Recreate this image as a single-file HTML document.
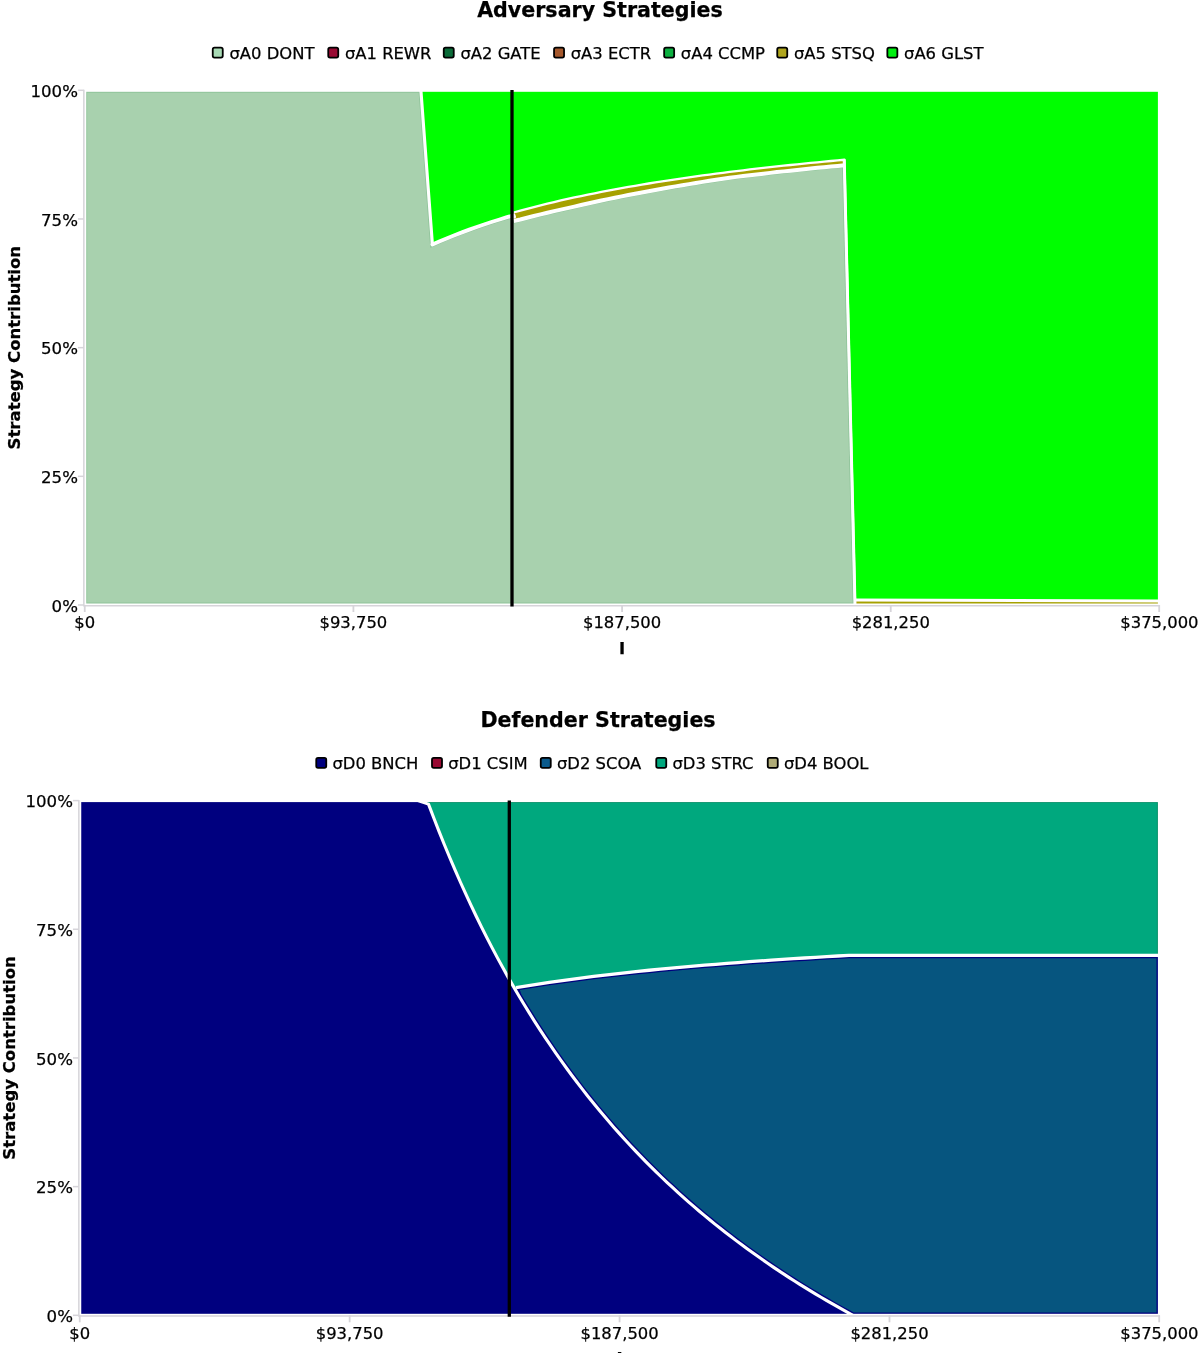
<!DOCTYPE html>
<html><head><meta charset="utf-8"><title>Strategies</title>
<style>html,body{margin:0;padding:0;background:#fff}svg{display:block}text{font-family:'DejaVu Sans','Liberation Sans',sans-serif;fill:#000;stroke:#000;stroke-width:0.25px}</style>
</head><body>
<svg width="1200" height="1353" viewBox="0 0 1200 1353">
<rect width="1200" height="1353" fill="#fff"/>
<text x="600" y="16.8" text-anchor="middle" font-size="20.6" font-weight="bold">Adversary Strategies</text>
<rect x="212.75" y="47.60" width="10" height="10" rx="1.8" fill="#a8dab5" stroke="#000" stroke-width="1.8"/>
<text x="229.40" y="58.7" font-size="16.4">σA0 DONT</text>
<rect x="328.25" y="47.60" width="10" height="10" rx="1.8" fill="#990a33" stroke="#000" stroke-width="1.8"/>
<text x="344.90" y="58.7" font-size="16.4">σA1 REWR</text>
<rect x="443.75" y="47.60" width="10" height="10" rx="1.8" fill="#0a6b38" stroke="#000" stroke-width="1.8"/>
<text x="460.40" y="58.7" font-size="16.4">σA2 GATE</text>
<rect x="554.05" y="47.60" width="10" height="10" rx="1.8" fill="#a5582c" stroke="#000" stroke-width="1.8"/>
<text x="570.70" y="58.7" font-size="16.4">σA3 ECTR</text>
<rect x="664.15" y="47.60" width="10" height="10" rx="1.8" fill="#0cb040" stroke="#000" stroke-width="1.8"/>
<text x="680.80" y="58.7" font-size="16.4">σA4 CCMP</text>
<rect x="777.25" y="47.60" width="10" height="10" rx="1.8" fill="#b0a61e" stroke="#000" stroke-width="1.8"/>
<text x="793.90" y="58.7" font-size="16.4">σA5 STSQ</text>
<rect x="887.35" y="47.60" width="10" height="10" rx="1.8" fill="#00f010" stroke="#000" stroke-width="1.8"/>
<text x="904.00" y="58.7" font-size="16.4">σA6 GLST</text>
<path d="M84.75 90.30 L1159.40 90.30 L1159.40 605.00 L84.75 605.00 Z" fill="#00fe00"/>
<path d="M513.60 212.50 L520.35 210.62 L527.10 208.80 L533.85 207.04 L540.60 205.33 L547.36 203.66 L554.11 202.05 L560.86 200.48 L567.61 198.95 L574.36 197.47 L581.11 196.03 L587.86 194.62 L594.61 193.26 L601.36 191.93 L608.11 190.63 L614.87 189.37 L621.62 188.13 L628.37 186.93 L635.12 185.76 L641.87 184.62 L648.62 183.50 L655.37 182.41 L662.12 181.35 L668.87 180.31 L675.62 179.29 L682.38 178.30 L689.13 177.33 L695.88 176.38 L702.63 175.45 L709.38 174.54 L716.13 173.65 L722.88 172.78 L729.63 171.93 L736.38 171.10 L743.13 170.28 L749.89 169.48 L756.64 168.69 L763.39 167.93 L770.14 167.17 L776.89 166.43 L783.64 165.71 L790.39 165.00 L797.14 164.30 L803.89 163.62 L810.64 162.94 L817.40 162.28 L824.15 161.64 L830.90 161.00 L837.65 160.38 L844.40 159.76 L855.00 600.00 L1159.40 601.00 L1159.40 605.00 L855.00 605.00 L844.40 165.26 L837.65 165.89 L830.90 166.53 L824.15 167.19 L817.40 167.85 L810.64 168.53 L803.89 169.22 L797.14 169.92 L790.39 170.64 L783.64 171.37 L776.89 172.11 L770.14 172.87 L763.39 173.64 L756.64 174.42 L749.89 175.23 L743.13 176.04 L736.38 176.88 L729.63 177.74 L722.88 178.75 L716.13 179.78 L709.38 180.83 L702.63 181.90 L695.88 182.99 L689.13 184.10 L682.38 185.23 L675.62 186.38 L668.87 187.56 L662.12 188.76 L655.37 189.98 L648.62 191.23 L641.87 192.47 L635.12 193.74 L628.37 195.04 L621.62 196.37 L614.87 197.72 L608.11 199.11 L601.36 200.54 L594.61 202.00 L587.86 203.49 L581.11 205.02 L574.36 206.59 L567.61 208.14 L560.86 209.62 L554.11 211.15 L547.36 212.73 L540.60 214.35 L533.85 216.02 L527.10 217.75 L520.35 219.52 L513.60 221.03 Z" fill="#a6a100"/>
<clipPath id="c1"><path d="M84.75 605.00 L84.75 90.30 L420.90 90.30 L432.40 244.42 L439.78 241.22 L447.16 238.14 L454.55 235.19 L461.93 232.36 L469.31 229.63 L476.69 227.00 L484.07 224.48 L491.45 222.04 L498.84 219.69 L506.22 217.43 L513.60 215.24 L513.60 221.03 L520.35 219.52 L527.10 217.75 L533.85 216.02 L540.60 214.35 L547.36 212.73 L554.11 211.15 L560.86 209.62 L567.61 208.14 L574.36 206.59 L581.11 205.02 L587.86 203.49 L594.61 202.00 L601.36 200.54 L608.11 199.11 L614.87 197.72 L621.62 196.37 L628.37 195.04 L635.12 193.74 L641.87 192.47 L648.62 191.23 L655.37 189.98 L662.12 188.76 L668.87 187.56 L675.62 186.38 L682.38 185.23 L689.13 184.10 L695.88 182.99 L702.63 181.90 L709.38 180.83 L716.13 179.78 L722.88 178.75 L729.63 177.74 L736.38 176.88 L743.13 176.04 L749.89 175.23 L756.64 174.42 L763.39 173.64 L770.14 172.87 L776.89 172.11 L783.64 171.37 L790.39 170.64 L797.14 169.92 L803.89 169.22 L810.64 168.53 L817.40 167.85 L824.15 167.19 L830.90 166.53 L837.65 165.89 L844.40 165.26 L855.00 605.00 Z"/></clipPath>
<path d="M84.75 605.00 L84.75 90.30 L420.90 90.30 L432.40 244.42 L439.78 241.22 L447.16 238.14 L454.55 235.19 L461.93 232.36 L469.31 229.63 L476.69 227.00 L484.07 224.48 L491.45 222.04 L498.84 219.69 L506.22 217.43 L513.60 215.24 L513.60 221.03 L520.35 219.52 L527.10 217.75 L533.85 216.02 L540.60 214.35 L547.36 212.73 L554.11 211.15 L560.86 209.62 L567.61 208.14 L574.36 206.59 L581.11 205.02 L587.86 203.49 L594.61 202.00 L601.36 200.54 L608.11 199.11 L614.87 197.72 L621.62 196.37 L628.37 195.04 L635.12 193.74 L641.87 192.47 L648.62 191.23 L655.37 189.98 L662.12 188.76 L668.87 187.56 L675.62 186.38 L682.38 185.23 L689.13 184.10 L695.88 182.99 L702.63 181.90 L709.38 180.83 L716.13 179.78 L722.88 178.75 L729.63 177.74 L736.38 176.88 L743.13 176.04 L749.89 175.23 L756.64 174.42 L763.39 173.64 L770.14 172.87 L776.89 172.11 L783.64 171.37 L790.39 170.64 L797.14 169.92 L803.89 169.22 L810.64 168.53 L817.40 167.85 L824.15 167.19 L830.90 166.53 L837.65 165.89 L844.40 165.26 L855.00 605.00 Z" fill="#a8d1ae" stroke="#8fc49a" stroke-width="4.8" clip-path="url(#c1)"/>
<path d="M513.60 221.03 L520.35 219.52 L527.10 217.75 L533.85 216.02 L540.60 214.35 L547.36 212.73 L554.11 211.15 L560.86 209.62 L567.61 208.14 L574.36 206.59 L581.11 205.02 L587.86 203.49 L594.61 202.00 L601.36 200.54 L608.11 199.11 L614.87 197.72 L621.62 196.37 L628.37 195.04 L635.12 193.74 L641.87 192.47 L648.62 191.23 L655.37 189.98 L662.12 188.76 L668.87 187.56 L675.62 186.38 L682.38 185.23 L689.13 184.10 L695.88 182.99 L702.63 181.90 L709.38 180.83 L716.13 179.78 L722.88 178.75 L729.63 177.74 L736.38 176.88 L743.13 176.04 L749.89 175.23 L756.64 174.42 L763.39 173.64 L770.14 172.87 L776.89 172.11 L783.64 171.37 L790.39 170.64 L797.14 169.92 L803.89 169.22 L810.64 168.53 L817.40 167.85 L824.15 167.19 L830.90 166.53 L837.65 165.89 L844.40 165.26" fill="none" stroke="#fff" stroke-width="4.0" stroke-linejoin="round" stroke-linecap="butt"/>
<path d="M513.60 212.50 L520.35 210.62 L527.10 208.80 L533.85 207.04 L540.60 205.33 L547.36 203.66 L554.11 202.05 L560.86 200.48 L567.61 198.95 L574.36 197.47 L581.11 196.03 L587.86 194.62 L594.61 193.26 L601.36 191.93 L608.11 190.63 L614.87 189.37 L621.62 188.13 L628.37 186.93 L635.12 185.76 L641.87 184.62 L648.62 183.50 L655.37 182.41 L662.12 181.35 L668.87 180.31 L675.62 179.29 L682.38 178.30 L689.13 177.33 L695.88 176.38 L702.63 175.45 L709.38 174.54 L716.13 173.65 L722.88 172.78 L729.63 171.93 L736.38 171.10 L743.13 170.28 L749.89 169.48 L756.64 168.69 L763.39 167.93 L770.14 167.17 L776.89 166.43 L783.64 165.71 L790.39 165.00 L797.14 164.30 L803.89 163.62 L810.64 162.94 L817.40 162.28 L824.15 161.64 L830.90 161.00 L837.65 160.38 L844.40 159.76 L855.00 600.00" fill="none" stroke="#fff" stroke-width="2.3" stroke-linejoin="round" stroke-linecap="butt"/>
<path d="M854.70 600.00 L1159.40 601.00" fill="none" stroke="#fff" stroke-width="3.0" stroke-linejoin="round" stroke-linecap="butt"/>
<path d="M432.40 244.42 L439.78 241.22 L447.16 238.14 L454.55 235.19 L461.93 232.36 L469.31 229.63 L476.69 227.00 L484.07 224.48 L491.45 222.04 L498.84 219.69 L506.22 217.43 L513.60 215.24 L514.10 216.77" fill="none" stroke="#fff" stroke-width="3.8" stroke-linejoin="round" stroke-linecap="round"/>
<path d="M420.90 90.30 L432.40 244.42" fill="none" stroke="#fff" stroke-width="3.1" stroke-linejoin="round" stroke-linecap="round"/>
<path d="M844.20 159.26 L855.00 605.00" fill="none" stroke="#fff" stroke-width="3.0" stroke-linejoin="round" stroke-linecap="butt"/>
<rect x="84.75" y="90.30" width="1074.65" height="514.70" fill="none" stroke="#fff" stroke-width="3"/>
<path d="M83.85 89.80 V605.80 H1160.00" fill="none" stroke="#d6d4d9" stroke-width="1.5"/>
<path d="M77.95 605.00 H83.85" stroke="#d6d4d9" stroke-width="1.5"/>
<text x="77.95" y="611.60" text-anchor="end" font-size="16.6">0%</text>
<path d="M77.95 476.32 H83.85" stroke="#d6d4d9" stroke-width="1.5"/>
<text x="77.95" y="482.93" text-anchor="end" font-size="16.6">25%</text>
<path d="M77.95 347.65 H83.85" stroke="#d6d4d9" stroke-width="1.5"/>
<text x="77.95" y="354.25" text-anchor="end" font-size="16.6">50%</text>
<path d="M77.95 218.97 H83.85" stroke="#d6d4d9" stroke-width="1.5"/>
<text x="77.95" y="225.57" text-anchor="end" font-size="16.6">75%</text>
<path d="M77.95 90.30 H83.85" stroke="#d6d4d9" stroke-width="1.5"/>
<text x="77.95" y="96.90" text-anchor="end" font-size="16.6">100%</text>
<path d="M84.75 605.00 V612.00" stroke="#d6d4d9" stroke-width="1.8"/>
<text x="84.75" y="628.30" text-anchor="middle" font-size="16.4">$0</text>
<path d="M353.41 605.00 V612.00" stroke="#d6d4d9" stroke-width="1.8"/>
<text x="353.41" y="628.30" text-anchor="middle" font-size="16.4">$93,750</text>
<path d="M622.08 605.00 V612.00" stroke="#d6d4d9" stroke-width="1.8"/>
<text x="622.08" y="628.30" text-anchor="middle" font-size="16.4">$187,500</text>
<path d="M890.74 605.00 V612.00" stroke="#d6d4d9" stroke-width="1.8"/>
<text x="890.74" y="628.30" text-anchor="middle" font-size="16.4">$281,250</text>
<path d="M1159.20 605.00 V612.00" stroke="#d6d4d9" stroke-width="1.8"/>
<text x="1159.40" y="628.30" text-anchor="middle" font-size="16.4">$375,000</text>
<path d="M512.0 90.10 V606.50" stroke="#000" stroke-width="3.3"/>
<text transform="translate(20.45 347.65) rotate(-90)" text-anchor="middle" font-size="16.5" font-weight="bold">Strategy Contribution</text>
<text x="622.08" y="654.00" text-anchor="middle" font-size="16.5" font-weight="bold">I</text>
<text x="598" y="727.1" text-anchor="middle" font-size="20.6" font-weight="bold">Defender Strategies</text>
<rect x="316.25" y="757.90" width="10" height="10" rx="1.8" fill="#00007f" stroke="#000" stroke-width="1.8"/>
<text x="332.40" y="769.0" font-size="16.4">σD0 BNCH</text>
<rect x="432.00" y="757.90" width="10" height="10" rx="1.8" fill="#990a33" stroke="#000" stroke-width="1.8"/>
<text x="448.15" y="769.0" font-size="16.4">σD1 CSIM</text>
<rect x="540.75" y="757.90" width="10" height="10" rx="1.8" fill="#0a5a8c" stroke="#000" stroke-width="1.8"/>
<text x="556.90" y="769.0" font-size="16.4">σD2 SCOA</text>
<rect x="656.25" y="757.90" width="10" height="10" rx="1.8" fill="#00a87e" stroke="#000" stroke-width="1.8"/>
<text x="672.40" y="769.0" font-size="16.4">σD3 STRC</text>
<rect x="767.75" y="757.90" width="10" height="10" rx="1.8" fill="#b0ac78" stroke="#000" stroke-width="1.8"/>
<text x="783.90" y="769.0" font-size="16.4">σD4 BOOL</text>
<clipPath id="c2"><path d="M79.75 800.60 L1159.40 800.60 L1159.40 1315.30 L79.75 1315.30 Z"/></clipPath>
<path d="M79.75 800.60 L1159.40 800.60 L1159.40 1315.30 L79.75 1315.30 Z" fill="#00a87e" stroke="#008f66" stroke-width="5.0" clip-path="url(#c2)"/>
<path d="M516.00 987.73 L527.10 985.88 L538.20 984.12 L549.30 982.44 L560.40 980.83 L571.50 979.30 L582.60 977.84 L593.70 976.44 L604.80 975.10 L615.90 973.82 L627.00 972.59 L638.10 971.40 L649.20 970.26 L660.30 969.17 L671.40 968.12 L682.50 967.10 L693.60 966.13 L704.70 965.18 L715.80 964.27 L726.90 963.39 L738.00 962.55 L749.10 961.72 L760.20 960.93 L771.30 960.16 L782.40 959.42 L793.50 958.70 L804.60 958.00 L815.70 957.32 L826.80 956.66 L837.90 956.02 L849.00 955.40 L1159.40 955.40 L1159.40 1315.30 L79.75 1315.30 L79.75 1006.48 Z" fill="#06557f"/>
<clipPath id="c3"><path d="M516.00 987.73 L527.10 985.88 L538.20 984.12 L549.30 982.44 L560.40 980.83 L571.50 979.30 L582.60 977.84 L593.70 976.44 L604.80 975.10 L615.90 973.82 L627.00 972.59 L638.10 971.40 L649.20 970.26 L660.30 969.17 L671.40 968.12 L682.50 967.10 L693.60 966.13 L704.70 965.18 L715.80 964.27 L726.90 963.39 L738.00 962.55 L749.10 961.72 L760.20 960.93 L771.30 960.16 L782.40 959.42 L793.50 958.70 L804.60 958.00 L815.70 957.32 L826.80 956.66 L837.90 956.02 L849.00 955.40 L1159.40 955.40 L1159.40 1315.30 L852.87 1315.30 L852.87 1315.30 L847.56 1312.40 L842.26 1309.45 L836.96 1306.47 L831.65 1303.44 L826.35 1300.38 L821.04 1297.26 L815.74 1294.11 L810.43 1290.90 L805.13 1287.65 L799.82 1284.35 L794.52 1281.00 L789.21 1277.61 L783.91 1274.16 L778.60 1270.66 L773.30 1267.10 L768.00 1263.49 L762.69 1259.83 L757.39 1256.11 L752.08 1252.32 L746.78 1248.48 L741.47 1244.58 L736.17 1240.61 L730.86 1236.58 L725.56 1232.48 L720.25 1228.32 L714.95 1224.08 L709.64 1219.78 L704.34 1215.40 L699.04 1210.95 L693.73 1206.41 L688.43 1201.80 L683.12 1197.11 L677.82 1192.34 L672.51 1187.48 L667.21 1182.53 L661.90 1177.49 L656.60 1172.36 L651.29 1167.14 L645.99 1161.81 L640.68 1156.39 L635.38 1150.86 L630.08 1145.23 L624.77 1139.48 L619.47 1133.63 L614.16 1127.65 L608.86 1121.56 L603.55 1115.34 L598.25 1109.00 L592.94 1102.53 L587.64 1095.92 L582.33 1089.17 L577.03 1082.27 L571.72 1075.23 L566.42 1068.03 L561.12 1060.68 L555.81 1053.16 L550.51 1045.47 L545.20 1037.61 L539.90 1029.57 L534.59 1021.34 L529.29 1012.91 L523.98 1004.28 L518.68 995.45 Z"/></clipPath>
<path d="M516.00 987.73 L527.10 985.88 L538.20 984.12 L549.30 982.44 L560.40 980.83 L571.50 979.30 L582.60 977.84 L593.70 976.44 L604.80 975.10 L615.90 973.82 L627.00 972.59 L638.10 971.40 L649.20 970.26 L660.30 969.17 L671.40 968.12 L682.50 967.10 L693.60 966.13 L704.70 965.18 L715.80 964.27 L726.90 963.39 L738.00 962.55 L749.10 961.72 L760.20 960.93 L771.30 960.16 L782.40 959.42 L793.50 958.70 L804.60 958.00 L815.70 957.32 L826.80 956.66 L837.90 956.02 L849.00 955.40 L1159.40 955.40 L1159.40 1315.30 L852.87 1315.30 L852.87 1315.30 L847.56 1312.40 L842.26 1309.45 L836.96 1306.47 L831.65 1303.44 L826.35 1300.38 L821.04 1297.26 L815.74 1294.11 L810.43 1290.90 L805.13 1287.65 L799.82 1284.35 L794.52 1281.00 L789.21 1277.61 L783.91 1274.16 L778.60 1270.66 L773.30 1267.10 L768.00 1263.49 L762.69 1259.83 L757.39 1256.11 L752.08 1252.32 L746.78 1248.48 L741.47 1244.58 L736.17 1240.61 L730.86 1236.58 L725.56 1232.48 L720.25 1228.32 L714.95 1224.08 L709.64 1219.78 L704.34 1215.40 L699.04 1210.95 L693.73 1206.41 L688.43 1201.80 L683.12 1197.11 L677.82 1192.34 L672.51 1187.48 L667.21 1182.53 L661.90 1177.49 L656.60 1172.36 L651.29 1167.14 L645.99 1161.81 L640.68 1156.39 L635.38 1150.86 L630.08 1145.23 L624.77 1139.48 L619.47 1133.63 L614.16 1127.65 L608.86 1121.56 L603.55 1115.34 L598.25 1109.00 L592.94 1102.53 L587.64 1095.92 L582.33 1089.17 L577.03 1082.27 L571.72 1075.23 L566.42 1068.03 L561.12 1060.68 L555.81 1053.16 L550.51 1045.47 L545.20 1037.61 L539.90 1029.57 L534.59 1021.34 L529.29 1012.91 L523.98 1004.28 L518.68 995.45 Z" fill="#06557f" stroke="#00007f" stroke-width="5.8" clip-path="url(#c3)"/>
<path d="M79.75 1315.30 L79.75 800.60 L417.90 800.60 L428.50 804.11 L433.80 818.07 L439.11 831.61 L444.41 844.75 L449.72 857.52 L455.02 869.93 L460.33 882.00 L465.63 893.73 L470.94 905.14 L476.24 916.25 L481.55 927.06 L486.85 937.60 L492.16 947.86 L497.46 957.86 L502.76 967.61 L508.07 977.12 L513.37 986.39 L518.68 995.45 L523.98 1004.28 L529.29 1012.91 L534.59 1021.34 L539.90 1029.57 L545.20 1037.61 L550.51 1045.47 L555.81 1053.16 L561.12 1060.68 L566.42 1068.03 L571.72 1075.23 L577.03 1082.27 L582.33 1089.17 L587.64 1095.92 L592.94 1102.53 L598.25 1109.00 L603.55 1115.34 L608.86 1121.56 L614.16 1127.65 L619.47 1133.63 L624.77 1139.48 L630.08 1145.23 L635.38 1150.86 L640.68 1156.39 L645.99 1161.81 L651.29 1167.14 L656.60 1172.36 L661.90 1177.49 L667.21 1182.53 L672.51 1187.48 L677.82 1192.34 L683.12 1197.11 L688.43 1201.80 L693.73 1206.41 L699.04 1210.95 L704.34 1215.40 L709.64 1219.78 L714.95 1224.08 L720.25 1228.32 L725.56 1232.48 L730.86 1236.58 L736.17 1240.61 L741.47 1244.58 L746.78 1248.48 L752.08 1252.32 L757.39 1256.11 L762.69 1259.83 L768.00 1263.49 L773.30 1267.10 L778.60 1270.66 L783.91 1274.16 L789.21 1277.61 L794.52 1281.00 L799.82 1284.35 L805.13 1287.65 L810.43 1290.90 L815.74 1294.11 L821.04 1297.26 L826.35 1300.38 L831.65 1303.44 L836.96 1306.47 L842.26 1309.45 L847.56 1312.40 L852.87 1315.30 Z" fill="#00007f"/>
<path d="M516.00 987.73 L527.10 985.88 L538.20 984.12 L549.30 982.44 L560.40 980.83 L571.50 979.30 L582.60 977.84 L593.70 976.44 L604.80 975.10 L615.90 973.82 L627.00 972.59 L638.10 971.40 L649.20 970.26 L660.30 969.17 L671.40 968.12 L682.50 967.10 L693.60 966.13 L704.70 965.18 L715.80 964.27 L726.90 963.39 L738.00 962.55 L749.10 961.72 L760.20 960.93 L771.30 960.16 L782.40 959.42 L793.50 958.70 L804.60 958.00 L815.70 957.32 L826.80 956.66 L837.90 956.02 L849.00 955.40 L1159.40 955.40" fill="none" stroke="#fff" stroke-width="3.3" stroke-linejoin="round" stroke-linecap="butt"/>
<path d="M417.90 800.60 L428.50 804.11 L433.80 818.07 L439.11 831.61 L444.41 844.75 L449.72 857.52 L455.02 869.93 L460.33 882.00 L465.63 893.73 L470.94 905.14 L476.24 916.25 L481.55 927.06 L486.85 937.60 L492.16 947.86 L497.46 957.86 L502.76 967.61 L508.07 977.12 L513.37 986.39 L518.68 995.45 L523.98 1004.28 L529.29 1012.91 L534.59 1021.34 L539.90 1029.57 L545.20 1037.61 L550.51 1045.47 L555.81 1053.16 L561.12 1060.68 L566.42 1068.03 L571.72 1075.23 L577.03 1082.27 L582.33 1089.17 L587.64 1095.92 L592.94 1102.53 L598.25 1109.00 L603.55 1115.34 L608.86 1121.56 L614.16 1127.65 L619.47 1133.63 L624.77 1139.48 L630.08 1145.23 L635.38 1150.86 L640.68 1156.39 L645.99 1161.81 L651.29 1167.14 L656.60 1172.36 L661.90 1177.49 L667.21 1182.53 L672.51 1187.48 L677.82 1192.34 L683.12 1197.11 L688.43 1201.80 L693.73 1206.41 L699.04 1210.95 L704.34 1215.40 L709.64 1219.78 L714.95 1224.08 L720.25 1228.32 L725.56 1232.48 L730.86 1236.58 L736.17 1240.61 L741.47 1244.58 L746.78 1248.48 L752.08 1252.32 L757.39 1256.11 L762.69 1259.83 L768.00 1263.49 L773.30 1267.10 L778.60 1270.66 L783.91 1274.16 L789.21 1277.61 L794.52 1281.00 L799.82 1284.35 L805.13 1287.65 L810.43 1290.90 L815.74 1294.11 L821.04 1297.26 L826.35 1300.38 L831.65 1303.44 L836.96 1306.47 L842.26 1309.45 L847.56 1312.40 L852.87 1315.30" fill="none" stroke="#fff" stroke-width="3.1" stroke-linejoin="round" stroke-linecap="butt"/>
<rect x="79.75" y="800.60" width="1079.65" height="514.70" fill="none" stroke="#fff" stroke-width="3"/>
<path d="M78.85 800.10 V1316.10 H1160.00" fill="none" stroke="#d6d4d9" stroke-width="1.5"/>
<path d="M72.95 1315.30 H78.85" stroke="#d6d4d9" stroke-width="1.5"/>
<text x="72.95" y="1321.90" text-anchor="end" font-size="16.6">0%</text>
<path d="M72.95 1186.62 H78.85" stroke="#d6d4d9" stroke-width="1.5"/>
<text x="72.95" y="1193.22" text-anchor="end" font-size="16.6">25%</text>
<path d="M72.95 1057.95 H78.85" stroke="#d6d4d9" stroke-width="1.5"/>
<text x="72.95" y="1064.55" text-anchor="end" font-size="16.6">50%</text>
<path d="M72.95 929.27 H78.85" stroke="#d6d4d9" stroke-width="1.5"/>
<text x="72.95" y="935.87" text-anchor="end" font-size="16.6">75%</text>
<path d="M72.95 800.60 H78.85" stroke="#d6d4d9" stroke-width="1.5"/>
<text x="72.95" y="807.20" text-anchor="end" font-size="16.6">100%</text>
<path d="M79.75 1315.30 V1322.30" stroke="#d6d4d9" stroke-width="1.8"/>
<text x="79.75" y="1338.60" text-anchor="middle" font-size="16.4">$0</text>
<path d="M349.66 1315.30 V1322.30" stroke="#d6d4d9" stroke-width="1.8"/>
<text x="349.66" y="1338.60" text-anchor="middle" font-size="16.4">$93,750</text>
<path d="M619.58 1315.30 V1322.30" stroke="#d6d4d9" stroke-width="1.8"/>
<text x="619.58" y="1338.60" text-anchor="middle" font-size="16.4">$187,500</text>
<path d="M889.49 1315.30 V1322.30" stroke="#d6d4d9" stroke-width="1.8"/>
<text x="889.49" y="1338.60" text-anchor="middle" font-size="16.4">$281,250</text>
<path d="M1159.20 1315.30 V1322.30" stroke="#d6d4d9" stroke-width="1.8"/>
<text x="1159.40" y="1338.60" text-anchor="middle" font-size="16.4">$375,000</text>
<path d="M509.3 800.40 V1316.80" stroke="#000" stroke-width="3.3"/>
<text transform="translate(15.45 1057.95) rotate(-90)" text-anchor="middle" font-size="16.5" font-weight="bold">Strategy Contribution</text>
<text x="619.58" y="1364.30" text-anchor="middle" font-size="16.5" font-weight="bold">I</text>
</svg>
</body></html>
